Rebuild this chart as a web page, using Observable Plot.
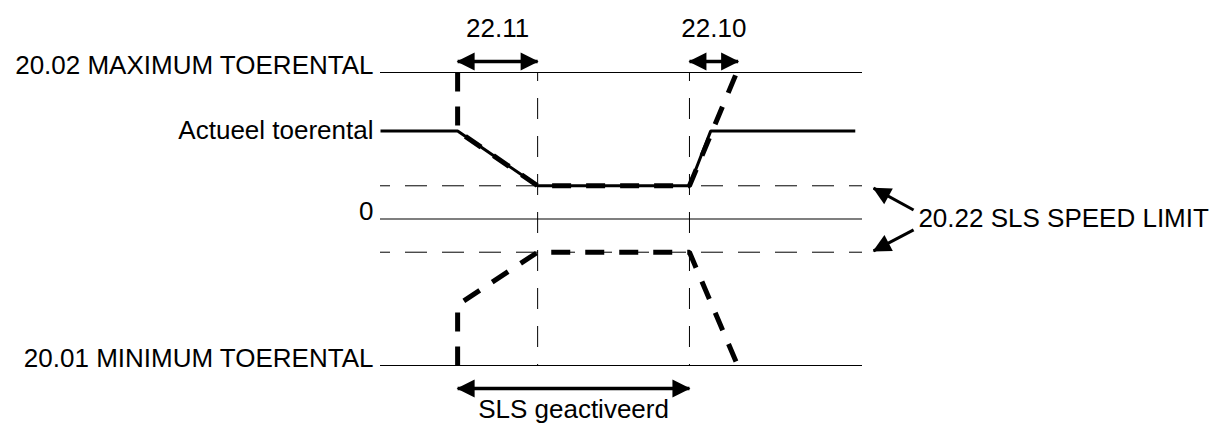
<!DOCTYPE html>
<html>
<head>
<meta charset="utf-8">
<script src="https://cdn.jsdelivr.net/npm/d3@7"></script>
<script src="https://cdn.jsdelivr.net/npm/@observablehq/plot@0.6"></script>
<style>
  html, body { margin: 0; padding: 0; background: #fff; overflow: hidden; }
  #chart svg { display: block; }
</style>
</head>
<body>
<div id="chart"></div>
<script>
// ---- data ----
const levelNames = ["20.02 MAXIMUM TOERENTAL", "0", "20.01 MINIMUM TOERENTAL"];
const levelValues = [1500, 0, -1500];
const speedLimit = 340;
const limitLabel = "20.22 SLS SPEED LIMIT";
const actualLabel = "Actueel toerental";
const activeLabel = "SLS geactiveerd";
const eventTimes = [32.6, 64.1];           // limit reached, SLS deactivated
const slsOn = 16, slsOff = 64.1;

const actualT = [0, 16, 32.6, 64.1, 68.5, 98.5];
const actualV = [900, 900, 340, 340, 900, 900];
const upperT = [16, 16, 32.6, 64.1, 73.9];
const upperV = [1500, 900, 340, 340, 1500];
const lowerT = [16, 16, 32.6, 64.1, 74.1];
const lowerV = [-1500, -880, -340, -340, -1500];

const rampNames = ["22.11", "22.10"];
const rampStart = [16, 64.1];
const rampEnd = [32.6, 74.2];

const pointerFromT = [110.6, 110.6];
const pointerFromV = [92, -112];
const pointerToT = [102.3, 102.3];
const pointerToV = [316, -327];

// ---- tables ----
const levels = levelNames.map((name, i) => ({name, v: levelValues[i]}));
const actual = actualT.map((t, i) => ({t, v: actualV[i]}));
const upper = upperT.map((t, i) => ({t, v: upperV[i]}));
const lower = lowerT.map((t, i) => ({t, v: lowerV[i]}));
const ramps = rampNames.map((name, i) => ({name, t1: rampStart[i], t2: rampEnd[i]}));
const pointers = pointerFromT.map((t, i) => ({t1: t, v1: pointerFromV[i], t2: pointerToT[i], v2: pointerToV[i]}));
const limits = [speedLimit, -speedLimit];
const vMax = d3.max(levelValues), vMin = d3.min(levelValues);

// filled arrow head marker
const NS = "http://www.w3.org/2000/svg";
function filledHead(color, context) {
  const doc = (context && context.document) || document;
  const m = doc.createElementNS(NS, "marker");
  m.setAttribute("viewBox", "-18 -10 20 20");
  m.setAttribute("markerWidth", 20);
  m.setAttribute("markerHeight", 20);
  m.setAttribute("markerUnits", "userSpaceOnUse");
  m.setAttribute("refX", 0);
  m.setAttribute("refY", 0);
  m.setAttribute("orient", "auto-start-reverse");
  const p = doc.createElementNS(NS, "path");
  p.setAttribute("d", "M1,0L-17,-9L-17,9Z");
  p.setAttribute("fill", color);
  p.setAttribute("stroke", "none");
  m.appendChild(p);
  return m;
}

const FS = 26;
const chart = Plot.plot({
  width: 1216,
  height: 423,
  marginLeft: 380,
  marginRight: 354,
  marginTop: 72,
  marginBottom: 58,
  x: {domain: [0, 100], axis: null},
  y: {domain: [vMin, vMax], axis: null},
  style: {fontFamily: "'Liberation Sans', Arial, Helvetica, sans-serif", background: "#fff", color: "#000"},
  marks: [
    // solid level lines
    Plot.ruleY(levels, {y: "v", stroke: "#000", strokeWidth: 1.2}),
    // dashed SLS limit lines
    Plot.ruleY(limits, {stroke: "#000", strokeWidth: 1, strokeDasharray: "22,15", strokeDashoffset: 12}),
    // dashed vertical event lines
    Plot.ruleX(eventTimes, {y1: vMax, y2: vMin, stroke: "#000", strokeWidth: 1, strokeDasharray: "21,17", strokeDashoffset: 12}),
    // actual speed
    Plot.line(actual, {x: "t", y: "v", stroke: "#000", strokeWidth: 3, strokeLinejoin: "miter", strokeLinecap: "butt"}),
    // upper / lower active speed limits (thick dashed)
    Plot.line(upper, {x: "t", y: "v", stroke: "#000", strokeWidth: 5, strokeDasharray: "19,15", strokeLinejoin: "miter", strokeLinecap: "butt"}),
    Plot.line(lower, {x: "t", y: "v", stroke: "#000", strokeWidth: 5, strokeDasharray: "19,15", strokeLinejoin: "miter", strokeLinecap: "butt"}),
    // level labels
    Plot.text(levels, {x: 0, y: "v", text: "name", textAnchor: "end", lineAnchor: "bottom", dx: -7, dy: 1, fontSize: FS, fill: "#000"}),
    Plot.text([actualLabel], {x: actualT[0], y: actualV[0], text: d => d, textAnchor: "end", lineAnchor: "middle", dx: -7, fontSize: FS, fill: "#000"}),
    // ramp time arrows + labels
    Plot.link(ramps, {x1: "t1", x2: "t2", y1: vMax, y2: vMax, dy: -11, stroke: "#000", strokeWidth: 3.5, strokeLinecap: "butt", markerStart: filledHead, markerEnd: filledHead}),
    Plot.text(ramps, {x: d => (d.t1 + d.t2) / 2, y: vMax, text: "name", textAnchor: "middle", lineAnchor: "bottom", dy: -36, fontSize: FS, fill: "#000"}),
    // SLS activated arrow + label
    Plot.link([activeLabel], {x1: slsOn, x2: slsOff, y1: vMin, y2: vMin, dy: 23, stroke: "#000", strokeWidth: 3.5, strokeLinecap: "butt", markerStart: filledHead, markerEnd: filledHead}),
    Plot.text([activeLabel], {x: (slsOn + slsOff) / 2, y: vMin, text: d => d, textAnchor: "middle", lineAnchor: "bottom", dy: 52, fontSize: FS, fill: "#000"}),
    // speed limit pointers + label
    Plot.link(pointers, {x1: "t1", y1: "v1", x2: "t2", y2: "v2", stroke: "#000", strokeWidth: 3, strokeLinecap: "butt", markerEnd: filledHead}),
    Plot.text([limitLabel], {x: 111.6, y: 0, text: d => d, textAnchor: "start", lineAnchor: "middle", fontSize: FS, fill: "#000"})
  ]
});
document.getElementById("chart").appendChild(chart);
</script>
</body>
</html>
